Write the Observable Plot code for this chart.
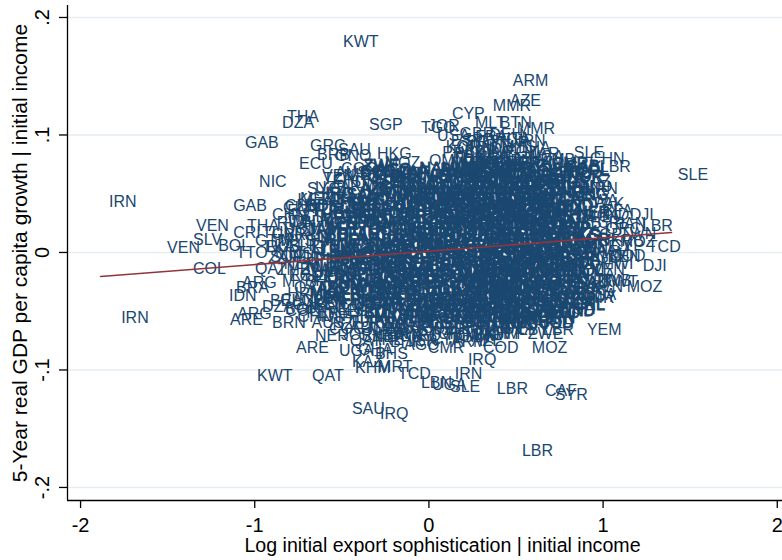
<!DOCTYPE html>
<html><head><meta charset="utf-8">
<script src="https://cdn.jsdelivr.net/npm/d3@7"></script>
<script src="https://cdn.jsdelivr.net/npm/@observablehq/plot@0.6"></script>
<style>html,body{margin:0;padding:0;background:#fff;} svg{display:block;}</style>
</head><body><div id="chart"></div>
<script>
// ---------------- axis definitions ----------------
const xTicks = [-2, -1, 0, 1, 2];
const yTicks = [0.2, 0.1, 0, -0.1, -0.2];
const yTickLabels = [".2", ".1", "0", "-.1", "-.2"];
const xDomain = [-2.075, 2.03];
const yDomain = [-0.2111, 0.2102];
const xTitle = "Log initial export sophistication | initial income";
const yTitle = "5-Year real GDP per capita growth | initial income";

// ---------------- outlying, readable labels ----------------
const outerCode = ["KWT","ARM","AZE","MMR","CYP","MLT","BTN","MMR","JOR","TGO","SGP","THA","DZA","GAB","GRC","SAU","HKG","BRB","GNQ","ECU","OMN","NIC","SYC","IRN","GAB","VEN","SLV","VEN","BOL","COL","CRI","THA","TTO","IDN","ARE","ARG","IRN","QAT","BRN","ARG","ARE","KWT","QAT","SAU","IRQ","KHM","KAZ","MRT","TCD","LBN","SLE","IRN","UGA","LBR","IRQ","COD","CMR","AGO","CAF","SYR","LBR","MOZ","YEM","LBR","ZWE","MOZ","DJI","TCD","SLE","NGA","GUY","COD","MOZ","LBR","IND","DJI","SLE","CHN","LBR","IND","NER","RWA","NER","UGA","BHS","GHA","OMN","KHM","MDG","ZMB","CHN","CHL","IDN","GTM","TUN","LKA","SOM","BRA","BEL","BGR","DZA","TZA","AUS","CRI","CYP","MEX","CIV"];
const outerX = [-0.539,0.436,0.419,0.321,0.086,0.218,0.361,0.459,-0.052,-0.092,-0.390,-0.861,-0.889,-1.102,-0.729,-0.568,-0.344,-0.688,-0.585,-0.792,-0.046,-1.021,-0.746,-1.882,-1.170,-1.383,-1.400,-1.549,-1.256,-1.400,-1.170,-1.090,-1.153,-1.193,-1.188,-1.147,-1.813,-1.044,-0.947,-1.119,-0.809,-1.033,-0.717,-0.488,-0.327,-0.470,-0.488,-0.338,-0.224,-0.092,0.075,0.103,-0.029,0.344,0.178,0.264,-0.052,-0.189,0.620,0.677,0.488,0.545,0.861,0.608,0.522,1.090,1.182,1.211,1.383,0.706,0.832,0.993,1.050,1.176,0.947,1.107,0.786,0.878,0.935,0.849,-0.373,-0.252,-0.700,-0.562,-0.356,-0.453,0.092,0.275,0.505,0.924,-0.947,-0.872,-0.855,-1.044,-1.004,-0.987,-0.958,-1.153,-0.958,-0.872,-1.004,-0.654,-0.585,-0.442,-0.241,-0.786,-0.884];
const outerY = [0.179,0.146,0.129,0.125,0.118,0.110,0.110,0.105,0.108,0.106,0.109,0.115,0.110,0.093,0.091,0.087,0.084,0.083,0.082,0.075,0.078,0.060,0.054,0.043,0.040,0.023,0.011,0.004,0.006,-0.014,0.017,0.023,0.000,-0.037,-0.057,-0.052,-0.056,-0.014,-0.060,-0.026,-0.081,-0.105,-0.105,-0.133,-0.137,-0.098,-0.093,-0.097,-0.103,-0.111,-0.114,-0.103,-0.113,-0.116,-0.091,-0.081,-0.081,-0.079,-0.118,-0.121,-0.169,-0.081,-0.066,-0.066,-0.069,-0.029,-0.011,0.005,0.066,-0.048,-0.038,-0.003,0.009,0.023,0.032,0.032,0.085,0.080,0.073,0.056,-0.072,-0.069,-0.071,-0.084,-0.086,-0.083,-0.072,-0.069,-0.056,-0.024,0.032,0.040,0.026,0.010,0.017,0.005,-0.004,-0.030,-0.041,-0.048,-0.046,0.063,0.068,0.066,0.067,0.046,0.038];

// ---------------- dense central mass (estimated) ----------------
const cloudCode = `USA GBR FRA DEU ITA ESP PRT GRC TUR JPN KOR CHN IND IDN MYS THA PHL PAK BGD LKA
NPL EGY MAR TUN DZA NGA GHA KEN TZA UGA ZMB ZWE MOZ MWI MDG ETH SEN MLI NER BFA
CIV CMR GAB COG COD AGO ZAF NAM BWA MUS BRA ARG CHL URY PRY BOL PER ECU COL VEN
MEX GTM HND SLV NIC CRI PAN DOM JAM TTO HTI CAN AUS NZL SWE NOR FIN DNK ISL IRL
NLD BEL AUT CHE POL HUN CZE SVK ROU BGR UKR RUS KAZ UZB ARM AZE GEO MDA BLR LTU
LVA EST ALB MKD HRV SVN ISR JOR SYR LBN IRN IRQ SAU KWT QAT ARE OMN YEM BHR CYP
MLT SGP HKG MAC BRN FJI PNG MNG KGZ TJK TKM LAO KHM VNM MMR BTN BEN TGO GIN SLE
LBR GMB GNB MRT TCD CAF RWA BDI SDN ERI DJI SOM LSO SWZ CPV STP COM SYC MDV BLZ
KEN TZA BRA MEX IND PAK EGY TUR GHA SEN PER CHL ARG URY PHL THA MYS IDN LKA BGD
NGA CMR CIV MLI NER BFA TCD MRT GMB GIN SLE LBR TGO BEN GAB COG ZAR AGO ZMB MWI
MOZ ZWE MDG ETH UGA RWA BDI KEN SDN DZA MAR TUN JOR SYR IRN IRQ KWT SAU OMN YEM
HND GTM SLV NIC CRI PAN DOM JAM HTI TTO ECU COL VEN BOL PRY BRA ARG CHL URY PER
FRA DEU ITA ESP PRT GRC GBR IRL NLD BEL AUT CHE SWE NOR FIN DNK ISL USA CAN AUS
NZL JPN KOR CHN HKG SGP TWN MYS THA PHL IDN VNM LAO KHM MMR BGD NPL LKA PAK IND
POL HUN CZE SVK ROU BGR UKR RUS BLR LTU LVA EST MDA GEO ARM AZE KAZ KGZ TJK UZB
ALB MKD HRV SVN BIH SRB MNE CYP MLT ISR LBN BHR QAT ARE MUS SYC CPV STP COM DJI
GNQ GNB ERI SOM LSO SWZ BWA NAM ZAF FJI PNG MNG BTN MDV BLZ GUY SUR BHS BRB TON
CAF COD COG GAB CMR NGA GHA TGO BEN NER MLI BFA SEN GMB GIN SLE LBR CIV MRT TCD
EGY SDN ETH KEN TZA UGA RWA BDI MWI ZMB ZWE MOZ MDG AGO NAM BWA ZAF LSO SWZ MUS
MEX GTM HND SLV NIC CRI PAN COL VEN ECU PER BOL CHL ARG URY PRY BRA DOM JAM HTI
IND PAK BGD LKA NPL CHN IDN THA MYS PHL VNM KHM LAO MMR KOR JPN SGP HKG MNG BTN
TUR IRN IRQ SYR JOR LBN SAU KWT QAT ARE OMN YEM BHR ISR CYP EGY LBY DZA MAR TUN
ROU BGR HUN POL CZE SVK SVN HRV MKD ALB RUS UKR BLR MDA LTU LVA EST GEO ARM AZE
KAZ KGZ TJK TKM UZB USA CAN GBR IRL FRA DEU ITA ESP PRT GRC NLD BEL AUT CHE DNK
GHA NGA CIV SEN CMR GAB KEN TZA UGA ETH MOZ ZMB MWI MDG ZWE SDN TCD NER MLI BFA
BRA ARG CHL COL PER VEN ECU BOL PRY URY MEX CRI PAN GTM HND SLV NIC DOM JAM TTO
IND CHN IDN PHL THA MYS VNM PAK BGD LKA NPL KHM LAO MMR MNG KOR JPN AUS NZL FJI
RWA BDI GIN SLE LBR TGO BEN GMB GNB MRT CAF COD COG AGO NAM BWA LSO SWZ DJI ERI
EGY MAR TUN DZA LBY JOR SYR LBN IRN IRQ TUR YEM OMN SAU KWT QAT ARE BHR ISR CYP
ARM AZE GEO KAZ KGZ TJK UZB RUS UKR BLR MDA ROU BGR HUN POL CZE SVK LTU LVA EST`.trim().split(/\s+/);

// sophistication, in hundredths
const cloudX100 = [
0,13,22,30,40,
8,17,26,34,45,
5,12,19,28,37,47,
3,10,16,24,31,39,50,
9,15,22,29,36,44,53,60,
-42,-30,8,14,20,27,33,40,48,57,66,74,
-55,-44,-35,-22,-10,2,10,17,23,30,37,43,51,60,70,80,
-66,-52,-40,-31,-18,-8,0,6,13,19,26,33,40,47,55,64,75,
-60,-47,-36,-26,-15,-5,3,9,15,22,29,35,42,50,58,68,82,
-70,-56,-44,-33,-22,-12,-3,5,11,18,25,31,38,45,53,62,72,88,
-64,-52,-40,-30,-20,-10,-1,7,14,20,27,34,41,48,56,65,77,
-80,-68,-57,-46,-36,-26,-16,-7,2,9,16,23,30,37,44,52,60,70,83,
-75,-62,-50,-41,-31,-21,-12,-3,5,12,19,26,33,40,47,55,64,74,90,
-86,-72,-60,-49,-38,-28,-18,-9,0,8,15,22,29,36,43,51,59,68,80,95,
-82,-67,-55,-45,-34,-24,-14,-5,3,11,18,25,32,39,46,54,62,72,85,
-92,-78,-64,-52,-41,-31,-21,-11,-2,6,14,21,28,35,42,49,57,66,76,92,102,
-88,-74,-61,-50,-39,-28,-18,-8,1,9,17,24,31,38,45,53,61,70,82,97,
-95,-82,-69,-57,-46,-35,-25,-15,-5,4,12,20,27,34,41,48,56,64,74,87,105,
-90,-77,-64,-53,-42,-32,-22,-12,-2,7,15,23,30,37,44,51,59,68,79,93,
-98,-85,-72,-60,-49,-38,-28,-18,-8,1,10,18,26,33,40,47,55,63,72,84,100,
-93,-80,-67,-55,-44,-34,-24,-14,-4,5,13,21,29,36,43,50,58,67,77,90,
-97,-83,-70,-58,-47,-37,-27,-17,-7,2,11,19,27,34,41,48,56,64,74,86,98,
-88,-75,-62,-51,-40,-30,-20,-10,-1,8,16,24,31,38,45,53,61,70,81,94,
-92,-78,-65,-54,-43,-33,-23,-13,-4,5,13,21,28,35,42,50,58,67,77,89,
-85,-71,-59,-48,-37,-27,-17,-7,2,10,18,25,32,39,47,55,63,72,84,
-89,-76,-63,-52,-41,-31,-21,-11,-2,7,15,22,29,36,44,52,60,69,80,95,
-82,-69,-57,-46,-35,-25,-15,-6,3,11,19,26,33,41,49,57,66,76,88,
-86,-73,-61,-50,-39,-29,-19,-9,0,8,16,23,30,38,46,54,63,73,84,
-90,-78,-66,-55,-44,-34,-24,-14,-5,4,12,20,27,35,43,51,60,70,81,
-83,-71,-59,-48,-38,-28,-18,-8,1,9,17,24,32,40,48,57,67,78,
-87,-75,-63,-52,-42,-32,-22,-12,-3,6,14,22,29,37,45,54,64,75,
-80,-68,-57,-46,-36,-26,-16,-6,3,11,19,27,35,43,52,62,
-72,-60,-49,-39,-29,-19,-10,-1,8,16,24,32,40,49,58,
-62,-50,-40,-30,-20,-11,-2,6,14,22,30,38,47,
-55,-44,-34,-24,-14,-5,4,12,20,28,
-50,-38,-27,-15,-4,8,20
];
// growth, in thousandths
const cloudY1000 = [
99,101,98,100,97,
95,94,96,93,95,
90,89,91,88,90,89,
85,84,86,83,85,86,84,
80,79,81,80,78,80,81,79,
74,76,75,74,76,75,73,75,76,74,75,73,
71,69,70,68,71,70,69,71,70,68,70,71,69,70,68,70,
65,66,64,65,66,64,65,66,64,65,63,65,66,64,65,66,64,
60,59,61,60,58,60,61,59,60,61,59,60,58,60,61,59,60,
55,56,54,55,56,54,55,56,55,54,56,55,54,55,56,54,55,54,
50,49,51,50,49,51,50,49,50,51,49,50,51,49,50,51,49,
45,46,44,45,46,44,45,46,45,44,46,45,44,45,46,44,45,46,44,
40,39,41,40,39,41,40,39,40,41,39,40,41,39,40,41,39,40,41,
35,36,34,35,36,34,35,36,35,34,36,35,34,35,36,34,35,36,34,35,
30,29,31,30,29,31,30,29,30,31,29,30,31,29,30,31,29,30,31,
25,26,24,25,26,24,25,26,25,24,26,25,24,25,26,24,25,26,24,25,24,
20,19,21,20,19,21,20,19,20,21,19,20,21,19,20,21,19,20,21,20,
15,16,14,15,16,14,15,16,15,14,16,15,14,15,16,14,15,16,14,15,16,
10,9,11,10,9,11,10,9,10,11,9,10,11,9,10,11,9,10,11,10,
5,6,4,5,6,4,5,6,5,4,6,5,4,5,6,4,5,6,4,5,6,
0,-1,1,0,-1,1,0,-1,0,1,-1,0,1,-1,0,1,-1,0,1,0,
-5,-4,-6,-5,-4,-6,-5,-4,-5,-6,-4,-5,-6,-4,-5,-6,-4,-5,-6,-5,-4,
-10,-11,-9,-10,-11,-9,-10,-11,-10,-9,-11,-10,-9,-11,-10,-9,-11,-10,-9,-10,
-15,-14,-16,-15,-14,-16,-15,-14,-15,-16,-14,-15,-16,-14,-15,-16,-14,-15,-16,-15,
-20,-21,-19,-20,-21,-19,-20,-21,-20,-19,-21,-20,-19,-21,-20,-19,-21,-20,-19,
-25,-24,-26,-25,-24,-26,-25,-24,-25,-26,-24,-25,-26,-24,-25,-26,-24,-25,-26,-25,
-30,-31,-29,-30,-31,-29,-30,-31,-30,-29,-31,-30,-29,-31,-30,-29,-31,-30,-29,
-35,-34,-36,-35,-34,-36,-35,-34,-35,-36,-34,-35,-36,-34,-35,-36,-34,-35,-36,
-40,-41,-39,-40,-41,-39,-40,-41,-40,-39,-41,-40,-39,-41,-40,-39,-41,-40,-39,
-45,-44,-46,-45,-44,-46,-45,-44,-45,-46,-44,-45,-46,-44,-45,-46,-44,-45,
-50,-51,-49,-50,-51,-49,-50,-51,-50,-49,-51,-50,-49,-51,-50,-49,-51,-50,
-55,-54,-56,-55,-54,-56,-55,-54,-55,-56,-54,-55,-56,-54,-55,-56,
-60,-61,-59,-60,-61,-59,-60,-61,-60,-59,-61,-60,-59,-61,-60,
-65,-64,-66,-65,-64,-66,-65,-64,-65,-66,-64,-65,-66,
-70,-71,-69,-70,-71,-69,-70,-71,-70,-69,
-75,-74,-76,-75,-74,-76,-75
];

// ---------------- fitted line end points ----------------
const fitX = [-1.885, 1.393];
const fitY = [-0.0204, 0.0170];

// ---------------- build tables ----------------
const outerPoints = outerCode.map((c, i) => ({code: c, x: outerX[i], y: outerY[i]}));
const cloudPoints = [];
const nCloud = Math.min(cloudX100.length, cloudY1000.length);
for (let i = 0; i < nCloud; i++) {
  cloudPoints.push({code: cloudCode[i % cloudCode.length], x: cloudX100[i] / 100, y: cloudY1000[i] / 1000});
}
// where labels pile up into a solid mass, glyphs are drawn slightly heavier
const inCore = d => d.x <= 0.8 && (
  (d.x >= -0.75 && d.y >= -0.045 && d.y <= 0.05) ||
  (d.x >= -0.45 && d.y >= -0.06 && d.y <= 0.075));
const corePoints = cloudPoints.filter(inCore);
const fringePoints = cloudPoints.filter(d => !inCore(d)).concat(outerPoints);
const fit = fitX.map((x, i) => ({x, y: fitY[i]}));

const font = "'Liberation Sans', Arial, Helvetica, sans-serif";
const navy = "#1a476f";

const chart = Plot.plot({
  width: 782,
  height: 560,
  marginLeft: 67,
  marginRight: 0,
  marginTop: 5,
  marginBottom: 60,
  x: {domain: xDomain, axis: null},
  y: {domain: yDomain, axis: null},
  style: {fontFamily: font, background: "white", overflow: "visible"},
  marks: [
    Plot.ruleY(yTicks, {stroke: "#e5edf2", strokeWidth: 1.6}),
    Plot.text(fringePoints, {x: "x", y: "y", text: "code", textAnchor: "start", lineAnchor: "middle", dx: 8, fontSize: 16, fill: navy}),
    Plot.text(corePoints, {x: "x", y: "y", text: "code", textAnchor: "start", lineAnchor: "middle", dx: 8, fontSize: 16, fill: navy, stroke: navy, strokeWidth: 0.9}),
    Plot.line(fit, {x: "x", y: "y", stroke: "#90353b", strokeWidth: 1.6}),
    // axis lines
    Plot.ruleX([xDomain[0]], {stroke: "black", strokeWidth: 1.3}),
    Plot.ruleY([yDomain[0]], {stroke: "black", strokeWidth: 1.3}),
    // ticks
    Plot.axisY(yTicks, {anchor: "left", tickSize: 8, tickFormat: () => "", label: null, stroke: "black", strokeWidth: 1.3}),
    Plot.axisX(xTicks, {anchor: "bottom", tickSize: 8, tickFormat: () => "", label: null, stroke: "black", strokeWidth: 1.3}),
    // tick labels
    Plot.text(yTicks, {y: d => d, frameAnchor: "left", dx: -24.5, rotate: -90, textAnchor: "middle", lineAnchor: "middle", text: (d, i) => yTickLabels[i], fontSize: 20, fill: "black"}),
    Plot.text(xTicks, {x: d => d, frameAnchor: "bottom", dy: 25, textAnchor: "middle", lineAnchor: "middle", text: d => String(d), fontSize: 20, fill: "black"}),
    // titles
    Plot.text([yTitle], {frameAnchor: "left", dx: -47, rotate: -90, textAnchor: "middle", lineAnchor: "middle", text: d => d, fontSize: 21, fill: "black"}),
    Plot.text([xTitle], {frameAnchor: "bottom", dx: 17.5, dy: 45, textAnchor: "middle", lineAnchor: "middle", text: d => d, fontSize: 19.6, fill: "black"})
  ]
});
document.getElementById("chart").appendChild(chart);
</script>
</body></html>
